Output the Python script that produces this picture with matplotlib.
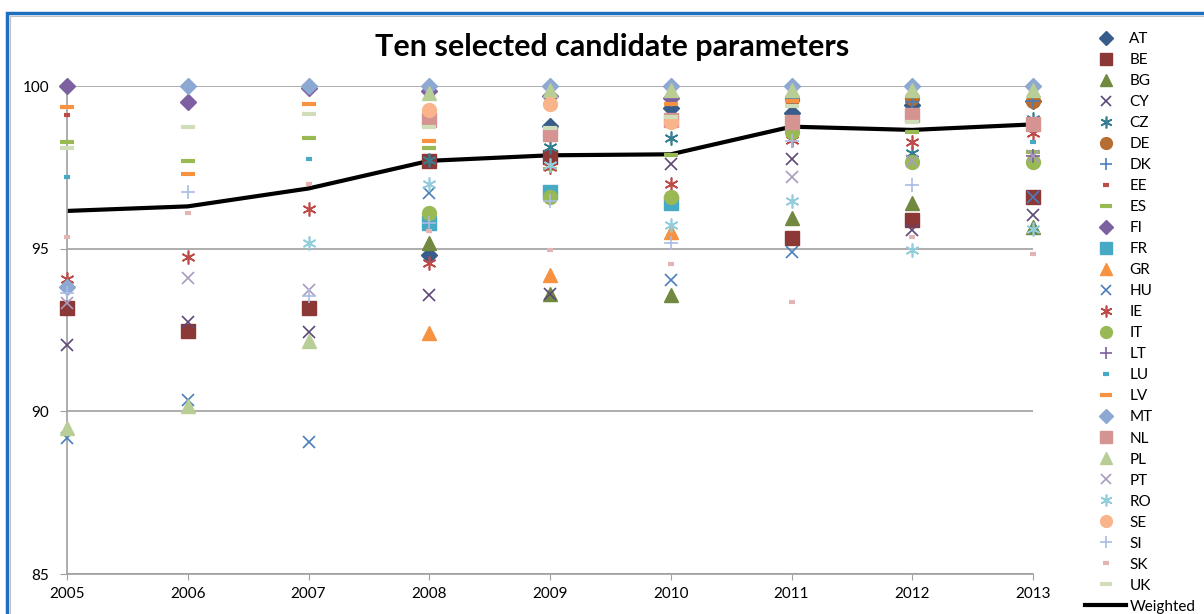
# -*- coding: utf-8 -*-

"""
    Ten selected candidate parameters: scatter per country + weighted line
"""
import numpy as np
import matplotlib
matplotlib.use('Agg')
import matplotlib.pyplot as plt
from matplotlib.patches import Rectangle
from matplotlib.lines import Line2D

plt.rcParams['font.family'] = ['Lato', 'DejaVu Sans']

nan = np.nan
years = [2005, 2006, 2007, 2008, 2009, 2010, 2011, 2012, 2013]

countries = ['AT', 'BE', 'BG', 'CY', 'CZ', 'DE', 'DK', 'EE', 'ES', 'FI', 'FR', 'GR', 'HU', 'IE',
             'IT', 'LT', 'LU', 'LV', 'MT', 'NL', 'PL', 'PT', 'RO', 'SE', 'SI', 'SK', 'UK']

AT = [nan, nan, nan, 94.81, 98.78, 99.31, 99.16, 99.42, 99.55]
BE = [93.18, 92.47, 93.17, 97.68, 97.83, nan, 95.34, 95.88, 96.60]
BG = [nan, nan, nan, 95.17, 93.60, 93.58, 95.94, 96.40, 95.68]
CY = [92.04, 92.76, 92.45, 93.58, 93.62, 97.60, 97.75, 95.57, 96.04]
CZ = [nan, nan, nan, 97.72, 98.14, 98.41, nan, 97.93, 99.00]
DE = [nan, nan, nan, nan, nan, nan, 99.60, 99.62, 99.54]
DK = [nan, nan, nan, 95.80, nan, nan, 99.60, 99.50, 99.55]
EE = [99.10, nan, nan, nan, nan, 99.50, nan, nan, nan]
ES = [98.29, 97.68, 98.39, 98.10, 97.45, 97.88, nan, 98.58, 97.98]
FI = [100.0, 99.52, 99.95, 99.85, 99.70, 99.62, nan, nan, nan]
FR = [nan, nan, nan, 95.78, 96.75, 96.40, nan, nan, nan]
GR = [nan, nan, nan, 92.40, 94.20, 95.52, nan, nan, nan]
HU = [89.18, 90.35, 89.07, 96.70, nan, 94.04, 94.91, nan, 96.60]
IE = [94.07, 94.73, 96.22, 94.55, 97.50, 96.98, 98.34, 98.29, 98.55]
IT = [nan, nan, nan, 96.09, 96.60, 96.60, 98.60, 97.65, 97.65]
LT = [nan, nan, nan, nan, nan, 99.65, nan, nan, 97.85]
LU = [97.20, nan, 97.76, nan, nan, nan, nan, nan, 98.29]
LV = [99.36, 97.30, 99.45, 98.32, nan, 99.44, 99.55, nan, nan]
MT = [93.83, 100.0, 100.0, 100.0, 100.0, 100.0, 100.0, 100.0, 100.0]
NL = [nan, nan, nan, 98.95, 98.52, 98.95, 98.90, 99.10, 98.82]
PL = [89.50, 90.15, 92.15, 99.80, 99.88, 99.88, 99.88, 99.88, 99.88]
PT = [93.33, 94.11, 93.73, nan, nan, nan, 97.21, 97.70, 97.85]
RO = [nan, nan, 95.17, 97.00, 97.57, 95.73, 96.47, 94.96, 95.60]
SE = [nan, nan, nan, 99.26, 99.44, 98.90, nan, nan, nan]
SI = [93.63, 96.75, 93.55, 95.80, 96.45, 95.17, 98.30, 96.96, nan]
SK = [95.37, 96.09, 96.98, 95.55, 94.96, 94.53, 93.37, 95.37, 94.83]
UK = [98.10, 98.73, 99.13, 98.75, 98.70, 99.06, 99.37, 98.90, nan]
weighted = [96.16, 96.30, 96.85, 97.70, 97.87, 97.90, 98.75, 98.65, 98.82]

values = [AT, BE, BG, CY, CZ, DE, DK, EE, ES, FI, FR, GR, HU, IE,
          IT, LT, LU, LV, MT, NL, PL, PT, RO, SE, SI, SK, UK]

colors = ['#385D8A', '#8C3836', '#71893F', '#5C4776', '#357D91', '#B66D31', '#4A7EBB', '#BE4B48',
          '#98B954', '#7D60A0', '#46AAC5', '#F69240', '#4A7EBB', '#BE4B48', '#98B954', '#7D60A0',
          '#46AAC5', '#F69240', '#8EA8D4', '#D59492', '#B9CD96', '#A99BBD', '#92CDDC', '#FAB48C',
          '#A9BCE4', '#E2B4B3', '#CFDDB9']

# marker cycle used by Excel: diamond, square, triangle, x, star, circle, plus, short dash, long dash
marker_cycle = [('D', 8, 1), ('s', 10, 1), ('^', 10, 1), ('x', 9, 1.2), ((6, 2, 0), 10, 1.2),
                ('o', 10, 1), ('+', 10, 1.2), ('_', 5, 3), ('_', 10, 3)]


def main():
    fig = plt.figure(figsize=(12.04, 6.14), dpi=100)
    ax = fig.add_axes([67 / 1204, 1 - 574 / 614, (1033 - 67) / 1204, (574 - 86) / 614])

    # weighted line
    ax.plot(years, weighted, color='black', lw=3, zorder=2)

    handles = []
    for i, (name, vals) in enumerate(zip(countries, values)):
        m, ms, mew = marker_cycle[i % 9]
        ax.plot(years, vals, linestyle='none', marker=m, markersize=ms, markeredgewidth=mew,
                color=colors[i], markeredgecolor=colors[i], clip_on=False, zorder=3)
        # legend markers are a bit smaller than in the plot
        handles.append(Line2D([], [], linestyle='none', marker=m, markersize=ms * 0.85,
                              markeredgewidth=mew, color=colors[i], markeredgecolor=colors[i]))
    handles.append(Line2D([], [], color='black', lw=3))
    labels = countries + ['Weighted']

    ax.set_xlim(2005, 2013)
    ax.set_ylim(85, 100)
    ax.set_xticks(years)
    ax.set_yticks([85, 90, 95, 100])
    ax.tick_params(axis='y', length=5, pad=8, color='#A0A0A0', labelsize=11)
    ax.tick_params(axis='x', length=4, pad=5, color='#A0A0A0', labelsize=11)
    ax.grid(axis='y', color='#A0A0A0', lw=1.2)
    ax.set_axisbelow(True)
    for side in ['top', 'right']:
        ax.spines[side].set_visible(False)
    for side in ['left', 'bottom']:
        ax.spines[side].set_color('#A0A0A0')
        ax.spines[side].set_linewidth(1.2)

    fig.text(0.508, 1 - 47 / 614, 'Ten selected candidate parameters', ha='center', va='center',
             fontsize=22, fontweight='bold')

    fig.legend(handles, labels, loc='upper left', bbox_to_anchor=(1085 / 1204, 1 - 32 / 614),
               frameon=False, fontsize=11, handlelength=2.7, handletextpad=0.2,
               labelspacing=0.46, borderaxespad=0, borderpad=0)

    # chart border
    fig.patches.append(Rectangle((7 / 1204, -0.1), 1.2, 1.1 - 13 / 614, transform=fig.transFigure,
                                 fill=False, edgecolor='#1F6FBF', lw=2.5))
    fig.patches.append(Rectangle((10 / 1204, -0.1), 1.2, 1.1 - 16 / 614, transform=fig.transFigure,
                                 fill=False, edgecolor='#C0C0C0', lw=0.8))

    plt.savefig('out.png', dpi=100)


if __name__ == '__main__':
    main()
